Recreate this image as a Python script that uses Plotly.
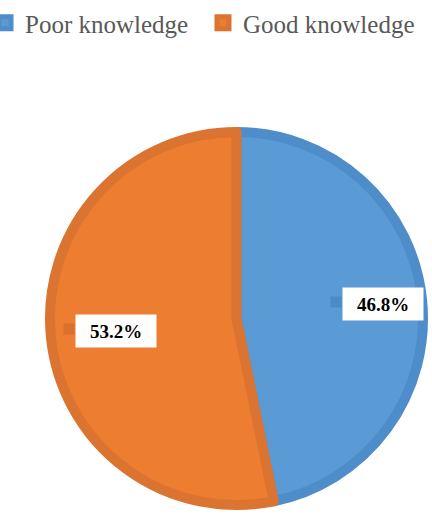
import math
import plotly.graph_objects as go

# --- Data ---
labels = ['Poor knowledge', 'Good knowledge']
values = [46.8, 53.2]
text_labels = ['46.8%', '53.2%']

# --- Style ---
W, H = 432, 516
FILL = ['#5B9BD5', '#ED7D31']
EDGE = ['#4F8DCA', '#DB7331']
KEY = ['#4E8AC3', '#D9712D']
LINE_W = 10
SERIF = '"Liberation Serif", "Times New Roman", Times, serif'

# pie circle in pixels (centre and radius as measured)
CX, CY, R = 236.5, 318.5, 191.5
r_in = R - LINE_W / 2
dom_x = [(CX - r_in) / W, (CX + r_in) / W]
dom_y = [1 - (CY + r_in) / H, 1 - (CY - r_in) / H]

fig = go.Figure()
fig.add_trace(go.Pie(
    labels=labels,
    values=values,
    sort=False,
    direction='clockwise',
    rotation=0,
    textinfo='none',
    hoverinfo='label+percent',
    marker=dict(colors=FILL, line=dict(color=EDGE, width=LINE_W)),
    domain=dict(x=dom_x, y=dom_y),
))

# data labels: white box with legend key, placed along each slice's mid angle
label_r = [0.77, 0.635]
box_w, box_h = 78, 30
total = sum(values)
start = 0.0
for i, v in enumerate(values):
    mid = (start + v / 2) / total * 2 * math.pi
    start += v
    px_x = CX + label_r[i] * R * math.sin(mid)
    px_y = CY - label_r[i] * R * math.cos(mid)
    fig.add_annotation(
        x=px_x / W, y=1 - px_y / H, xref='paper', yref='paper',
        xanchor='center', yanchor='middle',
        text='<b>' + text_labels[i] + '</b>', showarrow=False,
        width=box_w, height=box_h, bgcolor='white',
        font=dict(family=SERIF, size=19, color='black'),
    )
    fig.add_annotation(
        x=(px_x - box_w / 2 - 8) / W, y=1 - (px_y - 2) / H,
        xref='paper', yref='paper', xanchor='center', yanchor='middle',
        text=' ', showarrow=False,
        width=10, height=10, bgcolor=KEY[i], borderpad=0,
        font=dict(size=4),
    )

fig.update_layout(
    width=W, height=H,
    margin=dict(l=0, r=0, t=0, b=0),
    paper_bgcolor='white',
    plot_bgcolor='white',
    legend=dict(
        orientation='h', x=0, y=1, xanchor='left', yanchor='top',
        font=dict(family=SERIF, size=25, color='#595959'),
        itemwidth=30, entrywidth=188, indentation=-15, traceorder='normal',
    ),
)

# page body has a default 8px margin, drop it so the chart fills the window
fig.write_html('out.html', config={'displayModeBar': False},
               post_script="document.body.style.margin='0';")
